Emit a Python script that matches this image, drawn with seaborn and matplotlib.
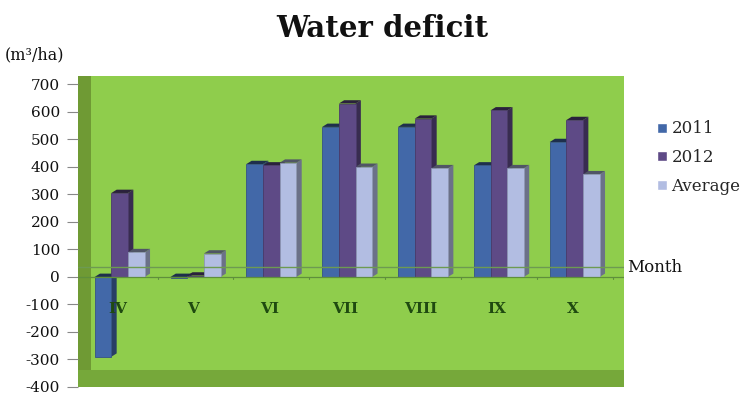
import matplotlib
matplotlib.use("Agg")
import matplotlib.pyplot as plt
import seaborn as sns
import pandas as pd
from matplotlib.patches import Polygon, Rectangle
from matplotlib.colors import to_rgb

# Monthly water deficit (m3/ha)
months = ["IV", "V", "VI", "VII", "VIII", "IX", "X"]
deficit_2011 = [-290, -5, 410, 545, 545, 405, 490]
deficit_2012 = [305, 5, 405, 630, 575, 605, 570]
deficit_avg = [90, 85, 415, 400, 395, 395, 373]
series_names = ["2011", "2012", "Average"]
yticks = list(range(-400, 701, 100))

colors = ["#4268a8", "#5e4a86", "#b2bde2"]
wall_green = "#8fcd4c"
side_green = "#6f9a34"

df = pd.DataFrame({
    "month": months * 3,
    "value": deficit_2011 + deficit_2012 + deficit_avg,
    "series": [s for s in series_names for _ in months],
})

sns.set_theme(style="white")
plt.rcParams["font.family"] = ["DejaVu Serif", "Liberation Serif"]

fig = plt.figure(figsize=(7.47, 3.98), dpi=100)
ax = fig.add_axes([78 / 747, 1 - 387 / 398, (624 - 78) / 747, (387 - 76) / 398])
ax.set_facecolor(wall_green)

sns.barplot(data=df, x="month", y="value", hue="series", order=months,
            hue_order=series_names, palette=colors, width=0.66,
            saturation=1, ax=ax, legend=True)

# faux depth: side and top faces derived from each drawn bar
dx, dy = 0.07, 12
for p in list(ax.patches):
    x0 = p.get_x()
    w = p.get_width()
    y0 = p.get_y()
    h = p.get_height()
    if w == 0:
        continue
    x1 = x0 + w
    lo, hi = min(y0, y0 + h), max(y0, y0 + h)
    base = to_rgb(p.get_facecolor())
    dark = tuple(c * 0.6 for c in base)
    darker = tuple(c * 0.45 for c in base)
    p.set_edgecolor(tuple(c * 0.8 for c in base))
    p.set_linewidth(0.6)
    side = Polygon([(x1, lo), (x1 + dx, lo + dy), (x1 + dx, hi + dy), (x1, hi)],
                   closed=True, facecolor=dark, edgecolor="none", zorder=p.get_zorder() - 0.1)
    top = Polygon([(x0, hi), (x0 + dx, hi + dy), (x1 + dx, hi + dy), (x1, hi)],
                  closed=True, facecolor=darker, edgecolor="none", zorder=p.get_zorder() - 0.1)
    ax.add_patch(side)
    ax.add_patch(top)

ax.set_xlim(-0.55, 6.65)
ax.set_ylim(-400, 730)

# left wall and floor slab
ax.add_patch(Rectangle((0, 0), 0.024, 1, transform=ax.transAxes,
                       facecolor=side_green, edgecolor="none", zorder=0.5))
ax.add_patch(Rectangle((0, 0), 1, 0.055, transform=ax.transAxes,
                       facecolor="#76a83a", edgecolor="none", zorder=0.5))

# floor lines at the base of the bars
ax.axhline(35, color="#6d9a52", lw=1.0, zorder=1)
ax.axhline(0, color="#5f8f3c", lw=0.9, zorder=1)
for i in range(len(months)):
    ax.plot([i + 0.5, i + 0.5], [0, -8], color="#5f8f3c", lw=0.8, zorder=1)

# month labels sit inside the plot under the zero line
for i, m in enumerate(months):
    ax.text(i - 0.03, -115, m, ha="center", va="center", fontsize=11,
            fontweight="bold", color="#1f4a10")
ax.set_xticks([])
ax.set_xlabel("")
ax.set_ylabel("")

ax.set_yticks(yticks)
ax.set_yticklabels([str(v) for v in yticks], fontsize=11, color="#111111")
ax.tick_params(axis="y", length=8, width=0.8, color="#888888", pad=5, left=True)
for s in ax.spines.values():
    s.set_visible(False)

ax.text(1.005, 35, "Month", transform=ax.get_yaxis_transform(), ha="left",
        va="center", fontsize=12, color="#111111")

fig.text(0.512, 0.928, "Water deficit", ha="center", va="center",
         fontsize=21, fontweight="bold", color="#111111")
fig.text(0.006, 0.862, "(m³/ha)", ha="left", va="center", fontsize=11.5,
         color="#111111")

handles, labels = ax.get_legend_handles_labels()
ax.legend_.remove()
fig.legend(handles, labels, loc="upper left", bbox_to_anchor=(0.86, 0.735),
           frameon=False, fontsize=12, handlelength=0.55, handleheight=0.55,
           handletextpad=0.3, labelspacing=0.7)

fig.savefig("out.png", dpi=100)
